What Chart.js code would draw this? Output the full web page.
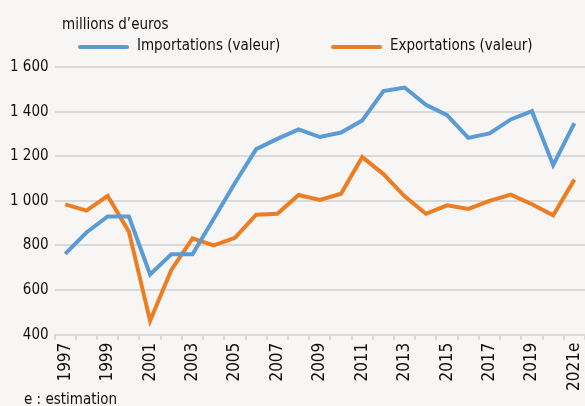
<!DOCTYPE html>
<html lang="fr">
<head>
<meta charset="UTF-8">
<title>Importations et exportations</title>
<script src="https://cdn.jsdelivr.net/npm/chart.js"></script>
<style>
  html, body { margin: 0; padding: 0; background: #f7f6f4; }
  .wrap { position: relative; width: 585px; height: 406px; overflow: hidden; }
  #chart { position: absolute; left: 0; top: 0; }
  .txt { position: absolute; font-family: "DejaVu Sans Condensed", "Liberation Sans Narrow", Roboto, sans-serif; color: #111; font-size: 15px; white-space: nowrap; }
</style>
</head>
<body>
<div class="wrap">
  <canvas id="chart" width="585" height="406"></canvas>
  <div class="txt" style="left:62px; top:15px;">millions d’euros</div>
  <div class="txt" style="left:24px; top:390px;">e : estimation</div>
</div>
<script>
const years = ['1997','1998','1999','2000','2001','2002','2003','2004','2005','2006','2007','2008',
  '2009','2010','2011','2012','2013','2014','2015','2016','2017','2018','2019','2020','2021e'];
const importations = [762, 858, 930, 930, 670, 760, 760, 920, 1080, 1232, 1278, 1320,
  1286, 1306, 1360, 1492, 1508, 1430, 1384, 1282, 1302, 1365, 1402, 1160, 1348];
const exportations = [984, 956, 1022, 862, 462, 690, 832, 800, 834, 938, 942, 1026,
  1004, 1032, 1196, 1120, 1020, 942, 980, 964, 1000, 1028, 985, 935, 1095];
const yTicks = [400, 600, 800, 1000, 1200, 1400, 1600];

const font = "'DejaVu Sans Condensed', 'Liberation Sans Narrow', Roboto, sans-serif";
const grey = '#d9d9d7';

function frNumber(v) {
  if (v >= 1000) return Math.floor(v / 1000) + ' ' + String(v % 1000).padStart(3, '0');
  return String(v);
}

// legend drawn at fixed spots, like the original
const legendSpots = [{ x: 80, y: 47 }, { x: 333, y: 47 }];
const topLegend = {
  id: 'topLegend',
  afterDraw(chart) {
    const ctx = chart.ctx;
    ctx.save();
    chart.data.datasets.forEach((ds, i) => {
      const p = legendSpots[i];
      ctx.strokeStyle = ds.borderColor;
      ctx.lineWidth = 4;
      ctx.lineCap = 'round';
      ctx.beginPath();
      ctx.moveTo(p.x, p.y);
      ctx.lineTo(p.x + 47, p.y);
      ctx.stroke();
      ctx.fillStyle = '#111';
      ctx.font = '15px ' + font;
      ctx.textBaseline = 'middle';
      ctx.fillText(ds.label, p.x + 57, p.y - 1);
    });
    ctx.restore();
  }
};

new Chart(document.getElementById('chart'), {
  type: 'line',
  data: {
    labels: years,
    datasets: [{
      label: 'Importations (valeur)',
      data: importations,
      borderColor: '#5b9bd5',
      backgroundColor: '#5b9bd5',
      borderWidth: 4,
      pointRadius: 0,
      tension: 0
    }, {
      label: 'Exportations (valeur)',
      data: exportations,
      borderColor: '#ed7d22',
      backgroundColor: '#ed7d22',
      borderWidth: 4,
      pointRadius: 0,
      tension: 0
    }]
  },
  plugins: [topLegend],
  options: {
    responsive: false,
    animation: false,
    layout: { padding: { top: 67, right: 0, bottom: 12, left: 4 } },
    plugins: {
      tooltip: { enabled: false },
      legend: { display: false }
    },
    scales: {
      x: {
        type: 'category',
        offset: true,
        afterFit: function (scale) { scale.paddingRight = 0; scale.paddingLeft = 0; },
        grid: { offset: true, drawOnChartArea: false, drawTicks: true, tickLength: 5, color: grey, lineWidth: 2 },
        border: { display: true, color: grey, width: 2 },
        ticks: {
          autoSkip: false,
          minRotation: 90,
          maxRotation: 90,
          padding: 3,
          color: '#111',
          font: { family: font, size: 17 },
          callback: function (val, i) { return i % 2 === 0 ? years[i] : ''; }
        }
      },
      y: {
        min: 400,
        max: 1600,
        afterBuildTicks: function (axis) { axis.ticks = yTicks.map(v => ({ value: v })); },
        grid: { color: grey, lineWidth: 2, drawTicks: false },
        border: { display: false },
        ticks: {
          padding: 6,
          color: '#111',
          font: { family: font, size: 15 },
          callback: v => frNumber(v)
        }
      }
    }
  }
});
</script>
</body>
</html>
